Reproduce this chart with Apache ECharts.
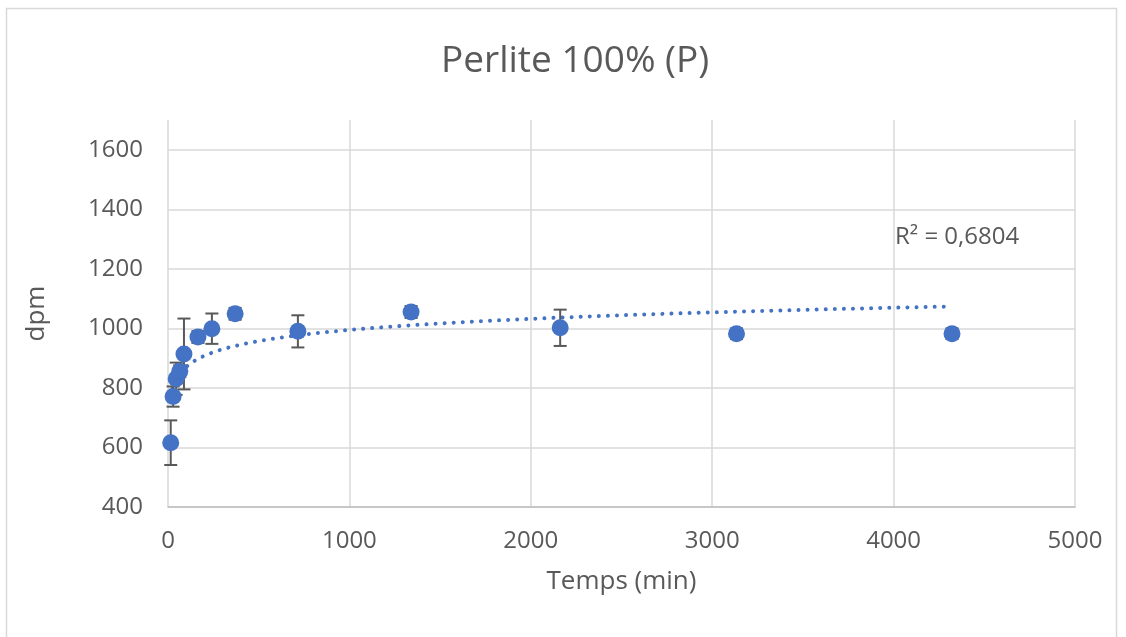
<!DOCTYPE html>
<html>
<head>
<meta charset="utf-8">
<script src="https://cdn.jsdelivr.net/npm/echarts@6/dist/echarts.min.js"></script>
<style>
html,body{margin:0;padding:0;background:#fff;}
#chart{width:1126px;height:637px;}
</style>
</head>
<body>
<div id="chart"></div>
<script>
// Data
var times = [15, 28, 45, 65, 88, 165, 242, 370, 716, 1340, 2162, 3134, 4322];
var dpm   = [616, 771, 831, 856, 914, 971, 999, 1049, 990, 1055, 1002, 982, 982];
var errs  = [75, 34, 54, 20, 119, 20, 51, 20, 54, 20, 61, 18, 18];
var xTicks = [0, 1000, 2000, 3000, 4000, 5000];
var yTicks = [400, 600, 800, 1000, 1200, 1400, 1600];
var titleText = 'Perlite 100% (P)';
var xName = 'Temps (min)';
var yName = 'dpm';
var r2Text = 'R² = 0,6804';

// Logarithmic trendline (least squares on ln x), like Excel
function logFit(xs, ys) {
  var n = xs.length, sl = 0, sy = 0, sll = 0, sly = 0;
  for (var i = 0; i < n; i++) {
    var l = Math.log(xs[i]);
    sl += l; sy += ys[i]; sll += l * l; sly += l * ys[i];
  }
  var a = (n * sly - sl * sy) / (n * sll - sl * sl);
  var b = (sy - a * sl) / n;
  return {a: a, b: b};
}
var fit = logFit(times, dpm);
var trend = [];
var x0 = times[0], x1 = times[times.length - 1];
for (var k = 0; k <= 300; k++) {
  var xv = x0 * Math.pow(x1 / x0, k / 300);
  trend.push([xv, fit.a * Math.log(xv) + fit.b]);
}

var pts = times.map(function (t, i) { return [t, dpm[i]]; });
var errData = times.map(function (t, i) { return [t, dpm[i] - errs[i], dpm[i] + errs[i]]; });

var FONT = 'Open Sans';
var TXT = '#595959';
function plain(v) { return String(v); }

var chart = echarts.init(document.getElementById('chart'), null, {renderer: 'canvas'});
chart.setOption({
  backgroundColor: '#fff',
  animation: false,
  textStyle: {fontFamily: FONT},
  grid: {left: 168, right: 51, top: 120, bottom: 130, containLabel: false},
  xAxis: {
    type: 'value', min: xTicks[0], max: xTicks[xTicks.length - 1], interval: 1000,
    name: xName, nameLocation: 'middle', nameGap: 62,
    nameTextStyle: {fontFamily: FONT, fontSize: 26, color: TXT},
    axisLine: {show: true, lineStyle: {color: '#bfbfbf', width: 1.5}},
    axisTick: {show: false},
    axisLabel: {fontFamily: FONT, fontSize: 24, color: TXT, margin: 22, formatter: plain},
    splitLine: {show: true, lineStyle: {color: '#d9d9d9', width: 1.5}}
  },
  yAxis: {
    type: 'value', min: yTicks[0], max: 1700, interval: 200,
    name: yName, nameLocation: 'middle', nameGap: 118, nameRotate: 90,
    nameTextStyle: {fontFamily: FONT, fontSize: 26, color: TXT},
    axisLine: {show: false},
    axisTick: {show: false},
    axisLabel: {fontFamily: FONT, fontSize: 24, color: TXT, margin: 25, showMaxLabel: false, formatter: plain},
    splitLine: {show: true, showMaxLine: false, lineStyle: {color: '#d9d9d9', width: 1.5}}
  },
  title: {
    text: titleText, left: 436, top: 38,
    textStyle: {fontFamily: FONT, fontSize: 37, fontWeight: 'normal', color: TXT}
  },
  graphic: [
    {type: 'rect', shape: {x: 6.5, y: 8.5, width: 1110, height: 700}, style: {fill: 'none', stroke: '#d9d9d9', lineWidth: 1.5}, silent: true, z: 0},
    {type: 'text', left: 895, top: 225, style: {text: r2Text, fontFamily: FONT, fontSize: 24, fill: TXT}}
  ],
  series: [
    {
      type: 'line', data: trend, showSymbol: false, symbol: 'none', z: 3,
      lineStyle: {color: '#4472C4', width: 4, type: [0.01, 9.07], cap: 'round'}
    },
    {
      type: 'custom', data: errData, z: 4,
      renderItem: function (params, api) {
        var x = api.value(0);
        var lo = api.coord([x, api.value(1)]);
        var hi = api.coord([x, api.value(2)]);
        var w = 6.5;
        var st = {stroke: '#595959', lineWidth: 2};
        return {type: 'group', children: [
          {type: 'line', shape: {x1: lo[0], y1: lo[1], x2: hi[0], y2: hi[1]}, style: st},
          {type: 'line', shape: {x1: lo[0] - w, y1: lo[1], x2: lo[0] + w, y2: lo[1]}, style: st},
          {type: 'line', shape: {x1: hi[0] - w, y1: hi[1], x2: hi[0] + w, y2: hi[1]}, style: st}
        ]};
      }
    },
    {
      type: 'scatter', data: pts, symbol: 'circle', symbolSize: 17, z: 5,
      itemStyle: {color: '#4472C4', opacity: 1}
    }
  ]
});
</script>
</body>
</html>
